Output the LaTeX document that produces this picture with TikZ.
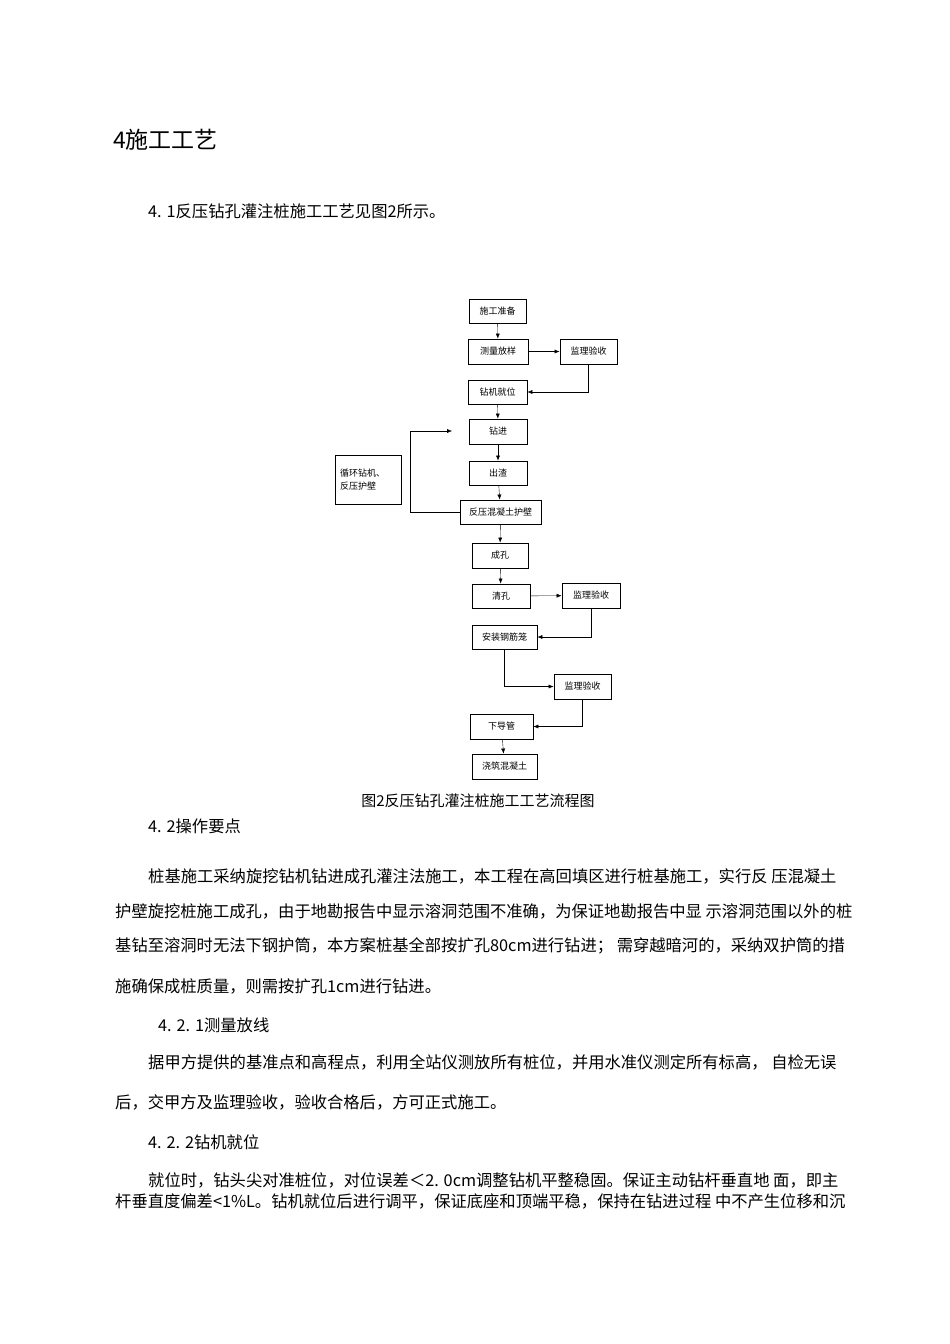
\documentclass[tikz,border=0pt]{standalone}
\usepackage{fontspec}
\setmainfont{Noto Sans CJK SC}
\usetikzlibrary{arrows.meta}
\begin{document}
\begin{tikzpicture}[x=1pt,y=-1pt,
  bx/.style={draw,thick,font=\fontsize{9}{10}\selectfont,inner sep=0pt},
  ln/.style={draw,thin},
  ar/.style={ln,-{Latex[length=5pt,width=4pt]}},
  body/.style={anchor=west,font=\fontsize{16.3}{18}\selectfont,inner sep=0pt}]
\useasboundingbox (0,0) rectangle (950,1344);
\newcommand\bx[6]{\node[bx,minimum width=#4-#2,minimum height=#5-#3] (#1) at ({(#2+#4)/2},{(#3+#5)/2}) {#6};}
\node[anchor=west,font=\fontsize{23}{26}\selectfont,inner sep=0pt] (t) at (113,140) {4施工工艺};
\node[body] (l0) at (148,211) {4. 1反压钻孔灌注桩施工工艺见图2所示。};
\bx{a}{469}{299}{526}{323}{施工准备}
\bx{b}{468}{339}{528}{364}{测量放样}
\bx{c}{560}{339}{617}{364}{监理验收}
\bx{d}{468}{380}{527}{404}{钻机就位}
\bx{e}{469}{419}{527}{444}{钻进}
\bx{f}{469}{461}{527}{485}{出渣}
\node[draw,thick,font=\fontsize{9}{13}\selectfont,align=left,minimum width=66pt,minimum height=49pt,text width=56pt] (g) at (368,479.5) {循环钻机、\\反压护壁};
\bx{h}{460}{500}{541}{524}{反压混凝土护壁}
\bx{i}{472}{543}{528}{568}{成孔}
\bx{j}{472}{584}{530}{608}{清孔}
\bx{k}{562}{583}{620}{608}{监理验收}
\bx{m}{472}{625}{537}{649}{安装钢筋笼}
\bx{n}{554}{674}{611}{699}{监理验收}
\bx{o}{470}{714}{533}{739}{下导管}
\bx{p}{472}{754}{537}{779}{浇筑混凝土}
\coordinate (lp) at (452,431);
\draw[ar] (a) -- (b);
\draw[ar] (b) -- (c);
\draw[ar] (c.south) |- (d.east);
\draw[ar] (d) -- (e);
\draw[ar] (e) -- (f);
\draw[ar] (f) -- (h);
\draw[ar] (h.west) -| (410,431) -- (lp);
\draw[ar] (h) -- (i);
\draw[ar] (i) -- (j);
\draw[ar] (j) -- (k);
\draw[ar] (k.south) |- (m.east);
\draw[ar] (m.south) |- (n.west);
\draw[ar] (n.south) |- (o.east);
\draw[ar] (o) -- (p);
\node[font=\fontsize{15}{18}\selectfont] (cap) at (478,801) {图2反压钻孔灌注桩施工工艺流程图};
\node[body] (r1) at (148,826) {4. 2操作要点};
\node[body] (r2) at (148,876) {桩基施工采纳旋挖钻机钻进成孔灌注法施工，本工程在高回填区进行桩基施工，实行反 压混凝土};
\node[body] (r3) at (115,911) {护壁旋挖桩施工成孔，由于地勘报告中显示溶洞范围不准确，为保证地勘报告中显 示溶洞范围以外的桩};
\node[body] (r4) at (115,946) {基钻至溶洞时无法下钢护筒，本方案桩基全部按扩孔80cm进行钻进；  需穿越暗河的，采纳双护筒的措};
\node[body] (r5) at (115,986) {施确保成桩质量，则需按扩孔1cm进行钻进。};
\node[body] (r6) at (158,1025) {4. 2. 1测量放线};
\node[body] (r7) at (148,1062) {据甲方提供的基准点和高程点，利用全站仪测放所有桩位，并用水准仪测定所有标高， 自检无误};
\node[body] (r8) at (115,1102) {后，交甲方及监理验收，验收合格后，方可正式施工。};
\node[body] (r9) at (148,1142) {4. 2. 2钻机就位};
\node[body] (r10) at (148,1180) {就位时，钻头尖对准桩位，对位误差＜2. 0cm调整钻机平整稳固。保证主动钻杆垂直地 面，即主};
\node[body] (r11) at (115,1201) {杆垂直度偏差<1\%L。钻机就位后进行调平，保证底座和顶端平稳，保持在钻进过程 中不产生位移和沉};
\end{tikzpicture}
\end{document}
